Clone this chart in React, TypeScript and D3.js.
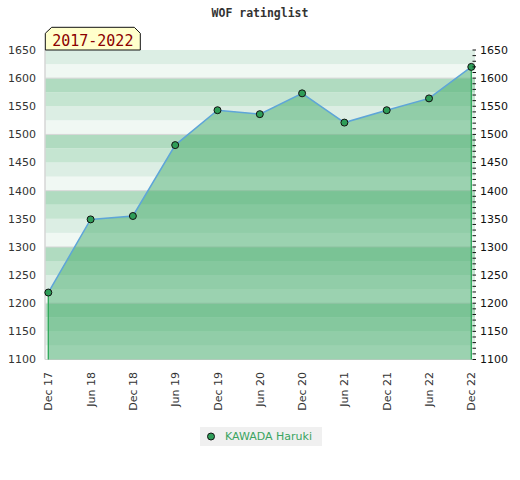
import * as d3 from 'd3';

// Rating history
const periods = ['Dec 17', 'Jun 18', 'Dec 18', 'Jun 19', 'Dec 19', 'Jun 20', 'Dec 20', 'Jun 21', 'Dec 21', 'Jun 22', 'Dec 22'];
const ratings = [1219, 1349, 1355, 1481, 1543, 1536, 1573, 1521, 1543, 1564, 1620];
const yTicks = [1100, 1150, 1200, 1250, 1300, 1350, 1400, 1450, 1500, 1550, 1600, 1650];
const playerName = 'KAWADA Haruki';
const yearRange = '2017-2022';
const chartTitle = 'WOF ratinglist';

const W = 520;
const H = 480;
const plot = { left: 45, right: 475, top: 50, bottom: 359.5 };
const stripeColors = ['#f0f8f3', '#dceee4', '#c5e5d1', '#b0dbc0'];

const App = () => {
  const x = d3.scalePoint<string>().domain(periods).range([48.3, 471.3]);
  const y = d3.scaleLinear().domain([1100, 1650]).range([plot.bottom, plot.top]);

  const data = periods.map((p, i) => ({ p, v: ratings[i] }));

  const area = d3.area<{ p: string; v: number }>()
    .x(d => x(d.p)!)
    .y0(y(1100))
    .y1(d => y(d.v));
  const line = d3.line<{ p: string; v: number }>()
    .x(d => x(d.p)!)
    .y(d => y(d.v));

  const stripes = d3.range(1100, 1650, 25);
  const minor = d3.range(1100, 1651, 10);
  const grid = d3.range(1100, 1651, 100);

  const first = data[0];
  const last = data[data.length - 1];

  return (
    <svg width={W} height={H} style={{ position: 'absolute', left: 0, top: 0 }}
      fontFamily="DejaVu Sans, sans-serif">
      <rect width={W} height={H} fill="#fff" />

      <text x={260} y={17} textAnchor="middle" fontFamily="DejaVu Sans Mono, monospace"
        fontWeight="bold" fontSize={11.5} fill="#333">{chartTitle}</text>

      {/* striped background */}
      {stripes.map((v, i) => (
        <rect key={v} x={plot.left} width={plot.right - plot.left}
          y={y(v + 25)} height={y(v) - y(v + 25)} fill={stripeColors[i % 4]} />
      ))}
      {grid.map(v => (
        <line key={v} x1={plot.left} x2={plot.right} y1={y(v)} y2={y(v)} stroke="#d6d6d6" strokeWidth={1} />
      ))}
      <line x1={plot.left} x2={plot.left} y1={plot.top} y2={plot.bottom} stroke="#d6d6d6" strokeWidth={1.5} />
      <line x1={plot.left} x2={plot.right} y1={plot.bottom} y2={plot.bottom} stroke="#d6d6d6" strokeWidth={1} />

      {/* area + edges */}
      <path d={area(data) || ''} fill="rgb(63,170,102)" fillOpacity={0.48} />
      <line x1={x(first.p)} x2={x(first.p)} y1={y(first.v)} y2={plot.bottom} stroke="#2fa85a" strokeWidth={1.3} />
      <line x1={x(last.p)} x2={x(last.p)} y1={y(last.v)} y2={plot.bottom} stroke="#2fa85a" strokeWidth={1.3} />
      <path d={line(data) || ''} fill="none" stroke="#5ea5d8" strokeWidth={1.5} />

      {data.map(d => (
        <circle key={d.p} cx={x(d.p)} cy={y(d.v)} r={3.5} fill="#2e9d58" stroke="#111" strokeWidth={1} />
      ))}

      {/* right minor ticks */}
      {minor.map(v => (
        <line key={v} x1={472.5} x2={476} y1={y(v)} y2={y(v)} stroke="#111" strokeWidth={1} />
      ))}

      {/* y labels */}
      {yTicks.map(v => (
        <g key={v}>
          <text x={36} y={y(v)} dy="0.35em" textAnchor="end" fontSize={11} fill="#333">{v}</text>
          <text x={480} y={y(v)} dy="0.35em" textAnchor="start" fontSize={11} fill="#111">{v}</text>
        </g>
      ))}

      {/* x labels */}
      {periods.map(p => (
        <text key={p} transform={`translate(${x(p)! + 4},372) rotate(-90)`} textAnchor="end"
          fontSize={11} fill="#333">{p}</text>
      ))}

      {/* year badge */}
      <path d="M45.3,50 L45.3,33.3 L51.7,27.3 L134.3,27.3 L140.3,33.3 L140.3,50 Z"
        fill="#ffffcc" stroke="#111" strokeWidth={1} />
      <text x={92.8} y={45.7} textAnchor="middle" fontFamily="DejaVu Sans Mono, monospace"
        fontSize={15} fill="#8b0000">{yearRange}</text>

      {/* legend */}
      <rect x={200} y={427} width={122} height={19} fill="#f0f0f0" />
      <circle cx={211} cy={436.5} r={3.5} fill="#2e9d58" stroke="#111" strokeWidth={1} />
      <text x={225} y={436.5} dy="0.35em" fontSize={11} fill="#3aa45f">{playerName}</text>
    </svg>
  );
};

export default App;
